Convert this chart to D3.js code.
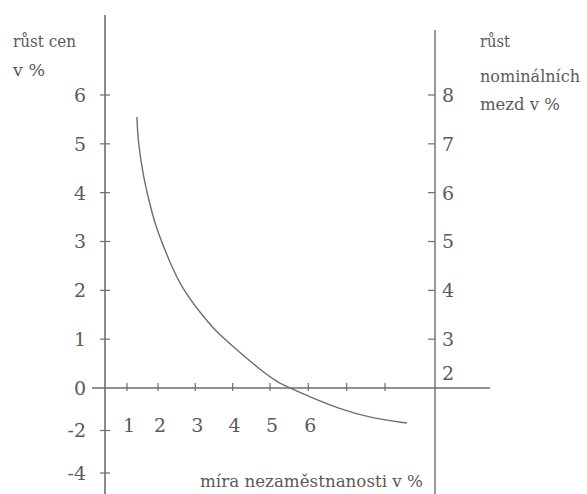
<!DOCTYPE html>
<html>
<head>
<meta charset="utf-8">
<script src="https://cdn.jsdelivr.net/npm/d3@7"></script>
<style>
  body { margin: 0; background: #fff; }
  #chart { width: 587px; height: 494px; }
</style>
</head>
<body>
<div id="chart"></div>
<script>
// x: unemployment rate in %, y: price growth in %
var unemployment = [1.32, 1.35, 1.52, 1.84, 1.97, 2.32, 2.67, 3.13, 3.58, 4.12, 4.65, 5.18, 5.47, 6.04, 6.75, 7.61, 8.57];
var priceGrowth = [5.55, 5.08, 4.32, 3.5, 3.24, 2.56, 2.01, 1.54, 1.13, 0.78, 0.43, 0.12, 0.02, -0.42, -0.94, -1.41, -1.65];

var xTicks = [1, 2, 3, 4, 5, 6, 7, 8];
var xLabels = [1, 2, 3, 4, 5, 6];
var leftTicks = [-4, -2, 0, 1, 2, 3, 4, 5, 6];
var rightTicks = [2, 3, 4, 5, 6, 7, 8];
// wage growth = price growth + productivity growth
var productivity = 2;

var leftTitle = ["růst cen", "v %"];
var rightTitle = ["růst", "nominálních", "mezd v %"];
var xTitle = "míra nezaměstnanosti v %";

var chart = (function () {
  var svg;
  var x;
  var y;
  var ink = "#6e6e6e";

  var init = function (id) {
    var root = document.getElementById(id);
    root.innerHTML = "";
    svg = d3.select(root).append("svg")
      .attr("width", 587)
      .attr("height", 494)
      .attr("font-family", "'DejaVu Serif', 'Liberation Serif', serif")
      .attr("fill", "#5a5a5a");

    // hand drawn scan: spacing is not even, so piecewise scales
    x = d3.scaleLinear().domain([0, 1, 2, 5, 8]).range([105, 127, 158, 270, 385]);
    y = d3.scaleLinear().domain([-4, 0, 6]).range([473, 388, 95]);
  };

  var yRight = function (v) {
    return y(v - productivity);
  };

  // squeeze a title line to the width it has in the scan
  var titleLine = function (str, tx, ty, w) {
    svg.append("text")
      .attr("x", tx)
      .attr("y", ty)
      .attr("font-size", 16)
      .attr("textLength", w)
      .attr("lengthAdjust", "spacingAndGlyphs")
      .text(str);
  };

  var draw = function () {
    // axis lines
    svg.append("line")
      .attr("x1", 105).attr("x2", 105)
      .attr("y1", 15).attr("y2", 494)
      .attr("stroke", ink).attr("stroke-width", 1.6);
    svg.append("line")
      .attr("x1", 435).attr("x2", 435)
      .attr("y1", 30).attr("y2", 494)
      .attr("stroke", ink).attr("stroke-width", 1.4);
    svg.append("line")
      .attr("x1", 92).attr("x2", 490)
      .attr("y1", y(0)).attr("y2", y(0))
      .attr("stroke", ink).attr("stroke-width", 1.6);

    // x ticks
    svg.selectAll(".xtick")
      .data(xTicks)
      .enter()
      .append("line")
      .attr("class", "xtick")
      .attr("x1", function (d) { return x(d); })
      .attr("x2", function (d) { return x(d); })
      .attr("y1", y(0) - 5)
      .attr("y2", y(0) + 3)
      .attr("stroke", ink).attr("stroke-width", 1.2);

    svg.selectAll(".xlabel")
      .data(xLabels)
      .enter()
      .append("text")
      .attr("class", "xlabel")
      .attr("x", function (d) { return x(d) + 2; })
      .attr("y", 432)
      .attr("text-anchor", "middle")
      .attr("font-size", 19)
      .text(function (d) { return d; });

    // left ticks
    svg.selectAll(".ltick")
      .data(leftTicks.filter(function (d) { return d !== 0; }))
      .enter()
      .append("line")
      .attr("class", "ltick")
      .attr("x1", 100).attr("x2", 110)
      .attr("y1", function (d) { return y(d); })
      .attr("y2", function (d) { return y(d); })
      .attr("stroke", ink).attr("stroke-width", 1.2);

    svg.selectAll(".llabel")
      .data(leftTicks)
      .enter()
      .append("text")
      .attr("class", "llabel")
      .attr("x", 86)
      .attr("y", function (d) { return y(d); })
      .attr("dy", "0.36em")
      .attr("text-anchor", "end")
      .attr("font-size", 19)
      .text(function (d) { return d; });

    // right ticks
    svg.selectAll(".rtick")
      .data(rightTicks.filter(function (d) { return d !== productivity; }))
      .enter()
      .append("line")
      .attr("class", "rtick")
      .attr("x1", 428).attr("x2", 435)
      .attr("y1", function (d) { return yRight(d); })
      .attr("y2", function (d) { return yRight(d); })
      .attr("stroke", ink).attr("stroke-width", 1.2);

    svg.selectAll(".rlabel")
      .data(rightTicks)
      .enter()
      .append("text")
      .attr("class", "rlabel")
      .attr("x", 442)
      .attr("y", function (d) { return yRight(d); })
      .attr("dy", function (d) { return d === productivity ? "-0.4em" : "0.36em"; })
      .attr("font-size", 19)
      .text(function (d) { return d; });

    // curve
    var line = d3.line()
      .x(function (d) { return x(d[0]); })
      .y(function (d) { return y(d[1]); })
      .curve(d3.curveBasis);

    svg.append("path")
      .datum(d3.zip(unemployment, priceGrowth))
      .attr("d", line)
      .attr("fill", "none")
      .attr("stroke", ink)
      .attr("stroke-width", 1.4);

    // titles
    titleLine(leftTitle[0], 13, 47, 63);
    titleLine(leftTitle[1], 13, 76, 32);
    titleLine(rightTitle[0], 480, 47, 30);
    titleLine(rightTitle[1], 480, 82, 100);
    titleLine(rightTitle[2], 480, 110, 80);
    titleLine(xTitle, 200, 487, 223);
  };

  return {
    init,
    draw,
  };
})();

chart.init("chart");
chart.draw();
</script>
</body>
</html>
